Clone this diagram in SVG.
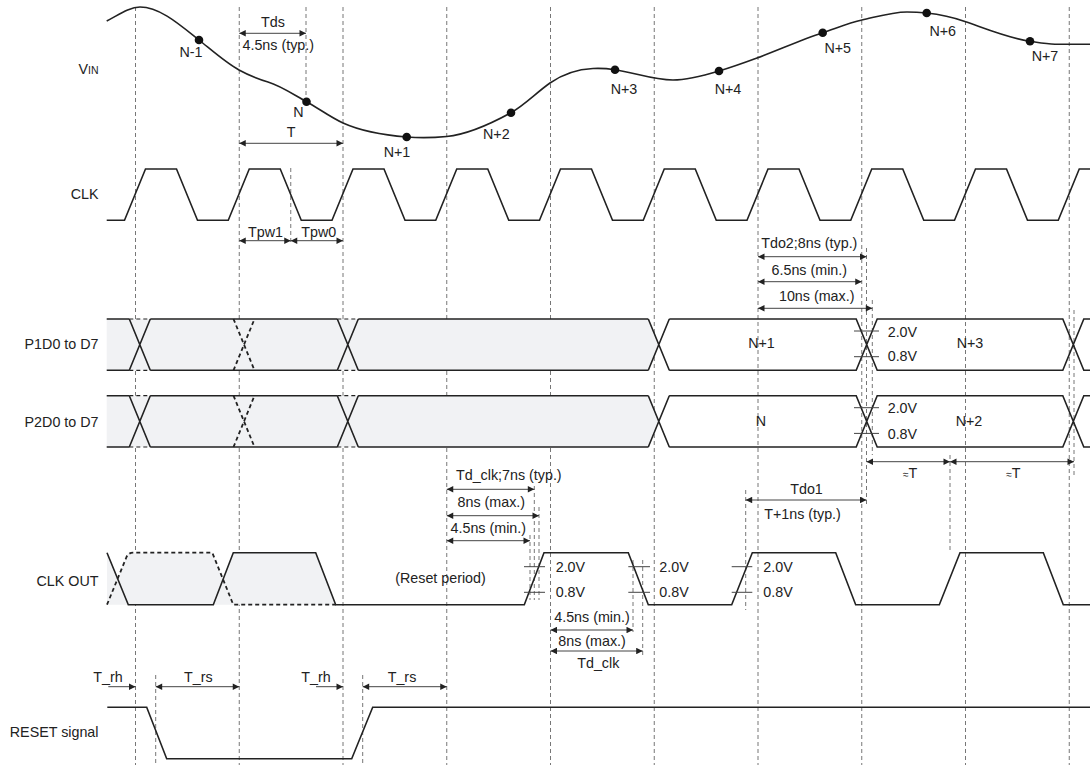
<svg xmlns="http://www.w3.org/2000/svg" width="1090" height="765" viewBox="0 0 1090 765">
<defs>
<marker id="ah" viewBox="0 0 10 10" refX="10" refY="5" markerWidth="8" markerHeight="6.5" markerUnits="userSpaceOnUse" orient="auto-start-reverse">
<path d="M0,0 L10,5 L0,10 Z" fill="#222"/>
</marker>
<style>
text{font-family:"Liberation Sans",Arial,Helvetica,sans-serif;font-size:14.3px;fill:#222}
.lbl{text-anchor:end}
.c{text-anchor:middle}
.grid{stroke:#777;stroke-width:1;stroke-dasharray:4 3;fill:none}
.wave{stroke:#222;stroke-width:1.6;fill:none;stroke-linejoin:miter}
.wdash{stroke:#222;stroke-width:1.8;fill:none;stroke-dasharray:4 3}
.thin{stroke:#222;stroke-width:1.2;fill:none;stroke-dasharray:4 3}
.fill{fill:#f1f2f4;stroke:none}
.dim{stroke:#444;stroke-width:1;fill:none;marker-end:url(#ah);marker-start:url(#ah)}
.dimr{stroke:#444;stroke-width:1;fill:none;marker-end:url(#ah)}
.tick{stroke:#444;stroke-width:1;fill:none}
.dot{fill:#111}
</style>
</defs>
<rect width="1090" height="765" fill="#fff"/>

<g id="grid">
<path class="grid" d="M135.5,7V765 M239.25,7V765 M343,7V765 M446.75,7V765 M550.5,7V765 M654.25,7V765 M758,7V765 M861.75,7V765 M965.5,7V765 M1069.25,7V765"/>
<path class="grid" d="M306,7V98 M290.75,168V245 M866.5,248V505 M872.3,300V455 M1074,310V478 M950,455V553 M745.7,490V610 M530,535V600 M534.3,486V600 M539,507V600 M633,560V632 M642.7,560V658 M155.7,675V765 M362.7,675V765"/>
</g>

<g id="vin">
<text class="lbl" x="98.5" y="74">V<tspan font-size="10.5px">IN</tspan></text>
<path class="wave" d="M106.7,21 C117.8,15.45 128.9,7 140,7 C159.67,7 179.33,24.27 199,40 C212.33,50.67 225.67,62.67 239,70 C248.67,75.32 258.33,79.1 268,82 C280.83,85.85 293.67,94.64 306.5,101.7 C318.67,108.39 330.83,117.52 343,123 C364.23,132.55 385.47,135.3 406.7,137 C420.03,138.07 433.37,137.83 446.7,136.5 C468.13,134.36 489.57,124.49 511,112.7 C524,105.55 537,92.1 550,83 C564.33,72.97 578.67,69.22 593,68.5 C600.33,68.13 607.67,68.6 615,69.7 C634.33,72.6 653.67,80 673,80 C688.33,80 703.67,75.6 719,71 C731.67,67.2 744.33,62.69 757,58 C778.9,49.9 800.8,39.93 822.7,32.7 C835.8,28.38 848.9,22.88 862,20 C877,16.7 892,12 907,12 C913.57,12 920.13,12.34 926.7,13 C939.7,14.3 952.7,17.15 965.7,21.7 C987.13,29.2 1008.57,38.09 1030,41.3 C1038.33,42.55 1046.67,44.2 1055,44.2 L1090,44.3"/>
<circle class="dot" cx="199" cy="40" r="4.3"/>
<circle class="dot" cx="306.5" cy="101.7" r="4.3"/>
<circle class="dot" cx="406.7" cy="137" r="4.3"/>
<circle class="dot" cx="511" cy="112.7" r="4.3"/>
<circle class="dot" cx="615" cy="69.7" r="4.3"/>
<circle class="dot" cx="719" cy="71" r="4.3"/>
<circle class="dot" cx="822.7" cy="32.7" r="4.3"/>
<circle class="dot" cx="926.7" cy="13" r="4.3"/>
<circle class="dot" cx="1030" cy="41.3" r="4.3"/>
<text class="c" x="191" y="57">N-1</text>
<text class="c" x="298.5" y="117.3">N</text>
<text class="c" x="397" y="157">N+1</text>
<text class="c" x="496.3" y="139.3">N+2</text>
<text class="c" x="624" y="94.3">N+3</text>
<text class="c" x="728" y="94.3">N+4</text>
<text class="c" x="837.7" y="52.7">N+5</text>
<text class="c" x="942.7" y="36">N+6</text>
<text class="c" x="1045" y="61">N+7</text>
</g>

<g id="clk">
<text class="lbl" x="98.5" y="199">CLK</text>
<path class="wave" d="M106.7,220.3 H124.5 L145.5,169 H176.5 L197.5,220.3 H228.25 L249.25,169 H280.25 L301.25,220.3 H332 L353,169 H384 L405,220.3 H435.75 L456.75,169 H487.75 L508.75,220.3 H539.5 L560.5,169 H591.5 L612.5,220.3 H643.25 L664.25,169 H695.25 L716.25,220.3 H747 L768,169 H799 L820,220.3 H850.75 L871.75,169 H902.75 L923.75,220.3 H954.5 L975.5,169 H1006.5 L1027.5,220.3 H1058.25 L1079.25,169 H1090"/>
</g>

<g id="p1">
<text class="lbl" x="98.5" y="349">P1D0 to D7</text>
<path class="fill" d="M106.7,319 H648.3 L658.8,344.7 L648.3,370.3 H106.7 Z"/>
<path class="wave" d="M106.7,319 H129.3 M150.3,319 H337.3 M358.3,319 H648.3 M106.7,370.3 H129.3 M150.3,370.3 H337.3 M358.3,370.3 H648.3 M129.3,319 L150.3,370.3 M129.3,370.3 L150.3,319 M337.3,319 L358.3,370.3 M337.3,370.3 L358.3,319 M648.3,319 L669.3,370.3 M648.3,370.3 L669.3,319 M669.3,319 H856.2 L877.2,370.3 H1062.8 L1083.8,319 H1090 M669.3,370.3 H856.2 L877.2,319 H1062.8 L1083.8,370.3 H1090"/>
<path class="thin" d="M129.3,319 H150.3 M337.3,319 H358.3 M129.3,370.3 H150.3 M337.3,370.3 H358.3"/>
<path class="wdash" d="M233.5,319 L254.5,370.3 M233.5,370.3 L254.5,319"/>
<text class="c" x="761.5" y="348">N+1</text>
<text class="c" x="970" y="348">N+3</text>
<path class="tick" d="M854,331 H879 M854,356.7 H879"/>
<text x="887.7" y="336.5">2.0V</text>
<text x="887.7" y="361">0.8V</text>
</g>

<g id="p2">
<text class="lbl" x="98.5" y="426.7">P2D0 to D7</text>
<path class="fill" d="M106.7,395.7 H648.3 L658.8,421.35 L648.3,447 H106.7 Z"/>
<path class="wave" d="M106.7,395.7 H129.3 M150.3,395.7 H337.3 M358.3,395.7 H648.3 M106.7,447 H129.3 M150.3,447 H337.3 M358.3,447 H648.3 M129.3,395.7 L150.3,447 M129.3,447 L150.3,395.7 M337.3,395.7 L358.3,447 M337.3,447 L358.3,395.7 M648.3,395.7 L669.3,447 M648.3,447 L669.3,395.7 M669.3,395.7 H856.2 L877.2,447 H1062.8 L1083.8,395.7 H1090 M669.3,447 H856.2 L877.2,395.7 H1062.8 L1083.8,447 H1090"/>
<path class="thin" d="M129.3,395.7 H150.3 M337.3,395.7 H358.3 M129.3,447 H150.3 M337.3,447 H358.3"/>
<path class="wdash" d="M233.5,395.7 L254.5,447 M233.5,447 L254.5,395.7"/>
<text class="c" x="761" y="425.5">N</text>
<text class="c" x="969" y="425.5">N+2</text>
<path class="tick" d="M854,407.7 H879 M854,433.4 H879"/>
<text x="887.7" y="413.3">2.0V</text>
<text x="887.7" y="438.5">0.8V</text>
</g>

<g id="clkout">
<text class="lbl" x="98.5" y="586">CLK OUT</text>
<path class="fill" d="M107,552.7 L117.7,578.7 L128.3,552.7 H212.3 L222.8,578.7 L233.3,552.7 H315.7 L335.7,604.7 H107 Z"/>
<path class="wave" d="M107,552.7 L128.3,604.7 H213.3 L233.3,552.7 H315.7 L335.7,604.7 H524.3 L544,552.7 H628.3 L648.3,604.7 H731.7 L752.3,552.7 H835.7 L855.7,604.7 H939.3 L960,552.7 H1043.3 L1063.3,604.7 H1090"/>
<path class="wdash" d="M107,604.7 L126.5,557 Q128.5,552.7 133,552.7 H212.3 L233.3,604.7 H335.7"/>
<text class="c" x="440.5" y="583">(Reset period)</text>
<path class="tick" d="M524,566.7 H545 M524,592.3 H545 M628.3,566.7 H650 M628.3,592.3 H650 M731.7,566.7 H752.3 M731.7,592.3 H752.3"/>
<text x="555.7" y="571.7">2.0V</text>
<text x="555.7" y="597">0.8V</text>
<text x="659.3" y="571.7">2.0V</text>
<text x="659.3" y="597">0.8V</text>
<text x="763.3" y="571.7">2.0V</text>
<text x="763.3" y="597">0.8V</text>
</g>

<g id="reset">
<text class="lbl" x="98.5" y="737">RESET signal</text>
<path class="wave" d="M107.3,707.3 H146.7 L166.7,758.7 H351.7 L372.7,707.3 H1090"/>
</g>

<g id="connectors">
<path class="dim" d="M239.25,33.3 H306"/>
<path class="dim" d="M239.25,143.3 H343"/>
<path class="dim" d="M239.25,240.7 H290.75"/>
<path class="dim" d="M290.75,240.7 H343"/>
<path class="dim" d="M758,256.7 H866.5"/>
<path class="dim" d="M758,281.7 H861.75"/>
<path class="dim" d="M758,308.3 H872.3"/>
<path class="dim" d="M866.5,461.7 H950"/>
<path class="dim" d="M950,461.7 H1074"/>
<path class="dim" d="M745.7,500 H866.5"/>
<path class="dim" d="M446.75,489.3 H534.3"/>
<path class="dim" d="M446.75,515.7 H539"/>
<path class="dim" d="M446.75,540.7 H530"/>
<path class="dim" d="M550.5,630 H633"/>
<path class="dim" d="M550.5,651 H642.7"/>
<path class="dimr" d="M108.3,686.7 H135.5"/>
<path class="dim" d="M155.7,686.7 H239.25"/>
<path class="dimr" d="M316,686.7 H343"/>
<path class="dim" d="M362.7,686.7 H446.75"/>
</g>

<g id="dim-labels">
<text class="c" x="273" y="26.5">Tds</text>
<text x="242.5" y="50">4.5ns (typ.)</text>
<text class="c" x="291" y="137.3">T</text>
<text class="c" x="265.5" y="236.5">Tpw1</text>
<text class="c" x="318.8" y="236.5">Tpw0</text>
<text class="c" x="809.3" y="248.3">Tdo2;8ns (typ.)</text>
<text class="c" x="809.3" y="275">6.5ns (min.)</text>
<text class="c" x="816.7" y="301">10ns (max.)</text>
<text class="c" x="910" y="478.3"><tspan font-size="10px">≈</tspan>T</text>
<text class="c" x="1013.3" y="478.3"><tspan font-size="10px">≈</tspan>T</text>
<text class="c" x="806.5" y="494">Tdo1</text>
<text class="c" x="802.5" y="519">T+1ns (typ.)</text>
<text class="c" x="508.8" y="480">Td_clk;7ns (typ.)</text>
<text class="c" x="491.3" y="506.7">8ns (max.)</text>
<text class="c" x="488.3" y="533.3">4.5ns (min.)</text>
<text class="c" x="592" y="621.7">4.5ns (min.)</text>
<text class="c" x="592" y="646">8ns (max.)</text>
<text class="c" x="598.3" y="668">Td_clk</text>
<text class="c" x="108" y="681.5">T_rh</text>
<text class="c" x="198.3" y="681.5">T_rs</text>
<text class="c" x="316" y="681.5">T_rh</text>
<text class="c" x="402" y="681.5">T_rs</text>
</g>
</svg>
